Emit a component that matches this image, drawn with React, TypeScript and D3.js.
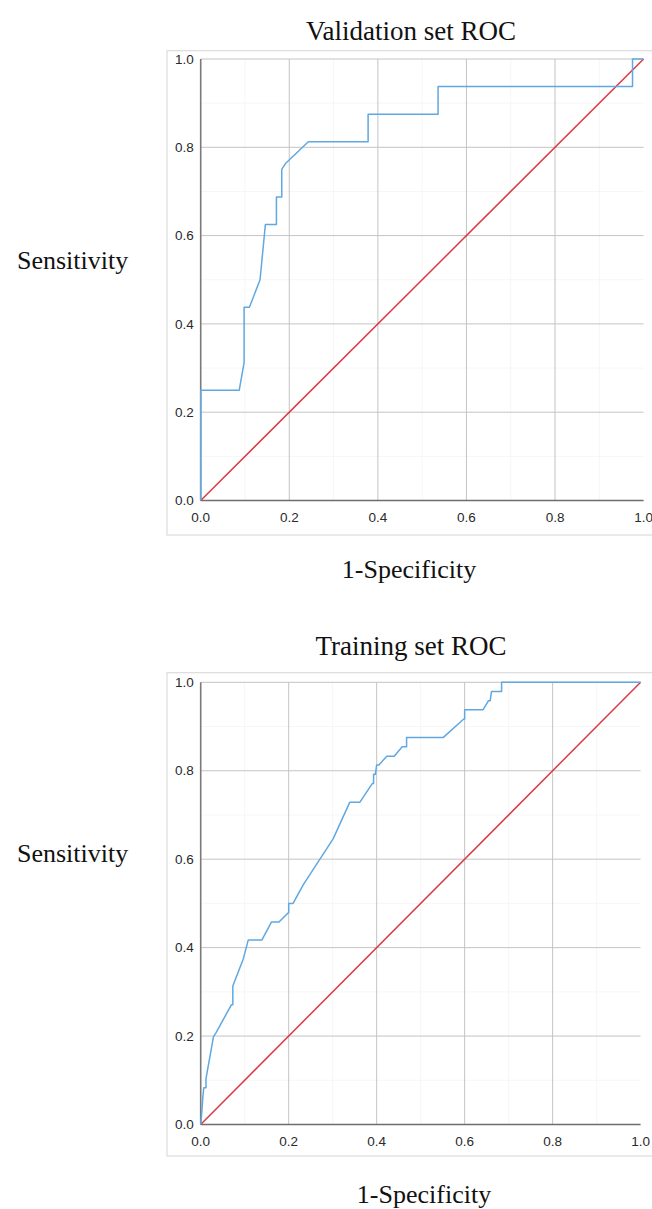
import * as d3 from 'd3';
import React from 'react';

// ROC points: [1-specificity, sensitivity]
const validationRoc: [number, number][] = [
  [0, 0], [0, 0.25], [0.087, 0.25], [0.098, 0.3125], [0.098, 0.4375],
  [0.11, 0.4375], [0.134, 0.5], [0.146, 0.625], [0.171, 0.625],
  [0.171, 0.6875], [0.183, 0.6875], [0.183, 0.75], [0.192, 0.764],
  [0.243, 0.8125], [0.378, 0.8125], [0.378, 0.875], [0.536, 0.875],
  [0.536, 0.9375], [0.975, 0.9375], [0.975, 1], [1, 1]
];

const trainingRoc: [number, number][] = [
  [0, 0], [0.002, 0.021], [0.005, 0.063], [0.007, 0.083], [0.012, 0.083],
  [0.012, 0.104], [0.029, 0.198], [0.035, 0.208], [0.07, 0.271],
  [0.073, 0.271], [0.073, 0.313], [0.097, 0.375], [0.108, 0.417],
  [0.139, 0.417], [0.161, 0.458], [0.178, 0.458], [0.199, 0.479],
  [0.2, 0.479], [0.2, 0.5], [0.21, 0.5], [0.233, 0.542], [0.301, 0.646],
  [0.339, 0.729], [0.362, 0.729], [0.39, 0.771], [0.393, 0.771],
  [0.393, 0.792], [0.397, 0.792], [0.4, 0.813], [0.405, 0.813],
  [0.423, 0.833], [0.44, 0.833], [0.458, 0.854], [0.468, 0.854],
  [0.468, 0.875], [0.551, 0.875], [0.598, 0.917], [0.6, 0.917],
  [0.6, 0.938], [0.642, 0.938], [0.654, 0.958], [0.658, 0.958],
  [0.661, 0.979], [0.684, 0.979], [0.684, 1], [1, 1]
];

const referenceLine: [number, number][] = [[0, 0], [1, 1]];

const majorTicks = [0, 0.2, 0.4, 0.6, 0.8, 1.0];
const minorTicks = [0.1, 0.3, 0.5, 0.7, 0.9];

const serif = '"Liberation Serif", "Times New Roman", serif';
const sans = '"Liberation Sans", Arial, sans-serif';

interface RocProps {
  title: string;
  data: [number, number][];
  // plot area in page pixels
  x0: number;
  x1: number;
  y0: number; // y of sensitivity 0
  y1: number; // y of sensitivity 1
  frameTop: number;
  frameBottom: number;
  titleY: number;
  sensY: number;
  specY: number;
  specX: number;
}

function RocPanel({
  title, data, x0, x1, y0, y1, frameTop, frameBottom, titleY, sensY, specY, specX
}: RocProps) {
  const x = d3.scaleLinear().domain([0, 1]).range([x0, x1]);
  const y = d3.scaleLinear().domain([0, 1]).range([y0, y1]);
  const line = d3
    .line<[number, number]>()
    .x((d) => x(d[0]))
    .y((d) => y(d[1]));

  return (
    <g>
      <text x={411} y={titleY} textAnchor="middle" fontFamily={serif} fontSize={27} fill="#111">
        {title}
      </text>
      <text x={17} y={sensY} fontFamily={serif} fontSize={26} fill="#111">
        Sensitivity
      </text>
      <text x={specX} y={specY} textAnchor="middle" fontFamily={serif} fontSize={26} fill="#111">
        1-Specificity
      </text>

      {/* frame round the plot */}
      <rect x={167} y={frameTop} width={500} height={frameBottom - frameTop} fill="#fff" stroke="#dcdcdc" strokeWidth={1.2} />

      {/* faint minor grid */}
      {minorTicks.map((t) => (
        <g key={'m' + t}>
          <line x1={x(t)} x2={x(t)} y1={y(0)} y2={y(1)} stroke="#f6f6f6" />
          <line x1={x(0)} x2={x(1)} y1={y(t)} y2={y(t)} stroke="#f6f6f6" />
        </g>
      ))}
      {/* major grid */}
      {majorTicks.slice(1, 5).map((t) => (
        <line key={'v' + t} x1={x(t)} x2={x(t)} y1={y(0)} y2={y(1)} stroke="#c4c4c4" strokeWidth={1} />
      ))}
      {majorTicks.slice(1).map((t) => (
        <line key={'h' + t} x1={x(0)} x2={x(1)} y1={y(t)} y2={y(t)} stroke="#c4c4c4" strokeWidth={1} />
      ))}

      {/* axes */}
      <line x1={x(0)} x2={x(0)} y1={y(0)} y2={y(1)} stroke="#7a7a7a" strokeWidth={1.6} />
      <line x1={x(0)} x2={x(1)} y1={y(0)} y2={y(0)} stroke="#6e6e6e" strokeWidth={1.6} />

      {majorTicks.map((t) => (
        <text key={'yl' + t} x={x(0) - 7} y={y(t)} dy="0.35em" textAnchor="end" fontFamily={sans} fontSize={13.5} fill="#2a2a2a">
          {d3.format('.1f')(t)}
        </text>
      ))}
      {majorTicks.map((t) => (
        <text key={'xl' + t} x={x(t)} y={y(0) + 21} textAnchor="middle" fontFamily={sans} fontSize={13.5} fill="#2a2a2a">
          {d3.format('.1f')(t)}
        </text>
      ))}

      <path d={line(referenceLine) || ''} fill="none" stroke="#dc3a44" strokeWidth={1.5} />
      <path d={line(data) || ''} fill="none" stroke="#5fa8e2" strokeWidth={1.5} strokeLinejoin="round" />
    </g>
  );
}

export default function App() {
  return (
    <svg width={652} height={1209} style={{ position: 'absolute', left: 0, top: 0, background: '#fff' }}>
      <RocPanel
        title="Validation set ROC"
        data={validationRoc}
        x0={200.7}
        x1={643.6}
        y0={500.5}
        y1={59}
        frameTop={50.7}
        frameBottom={535}
        titleY={40}
        sensY={269}
        specY={578}
        specX={409}
      />
      <RocPanel
        title="Training set ROC"
        data={trainingRoc}
        x0={200.7}
        x1={640.6}
        y0={1124.5}
        y1={682.3}
        frameTop={672.7}
        frameBottom={1156}
        titleY={655}
        sensY={862}
        specY={1203}
        specX={424}
      />
    </svg>
  );
}
